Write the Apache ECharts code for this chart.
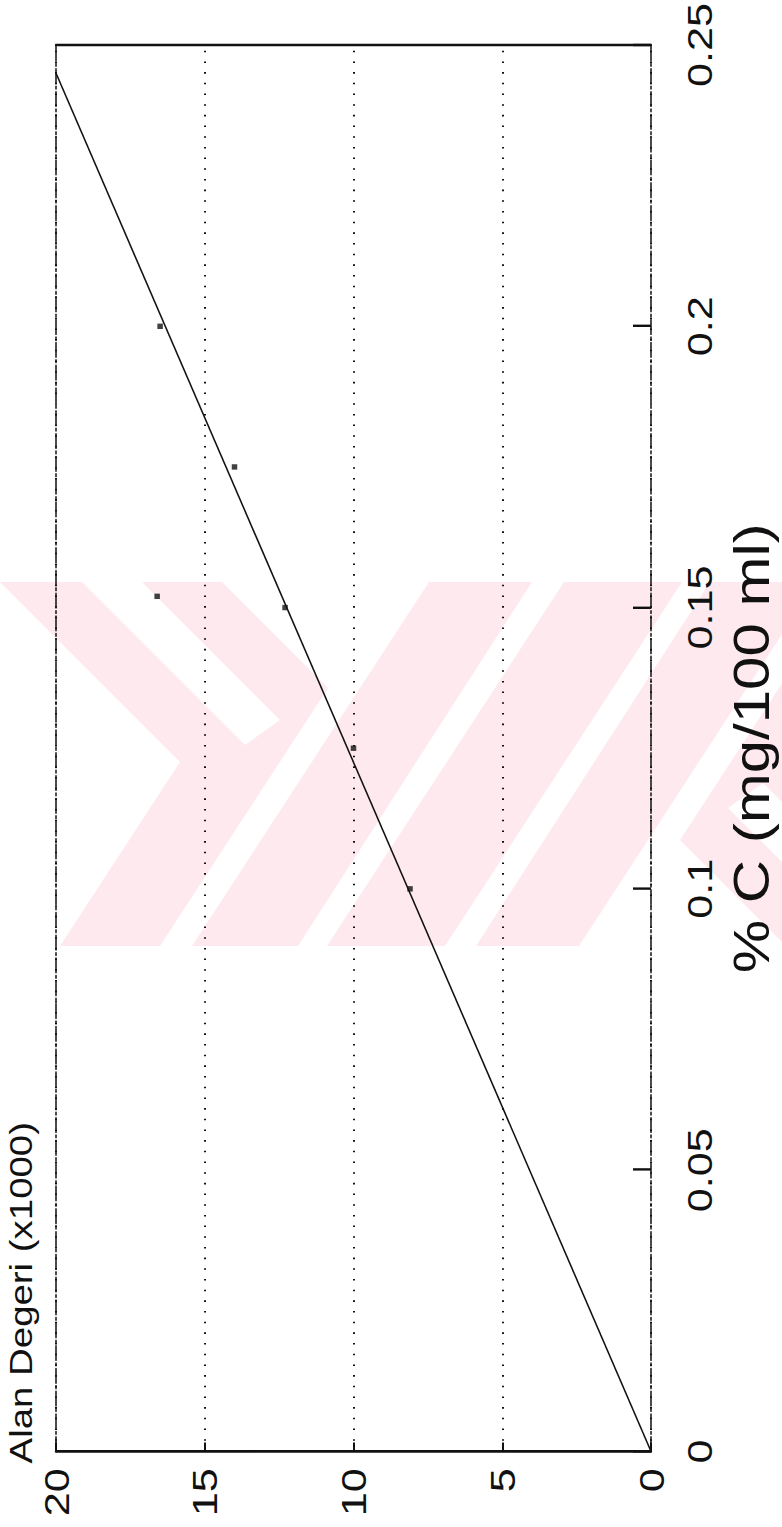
<!DOCTYPE html>
<html>
<head>
<meta charset="utf-8">
<script src="https://cdn.jsdelivr.net/npm/echarts@6/dist/echarts.min.js"></script>
<style>
  html, body { margin: 0; padding: 0; background: #fff; overflow: hidden; }
  #page { position: absolute; left: 0; top: 0; width: 782px; height: 1527px; overflow: hidden; background: #fff; }
  /* The figure is laid out landscape and turned a quarter turn to sit on the portrait page */
  #chart {
    position: absolute; left: 0; top: 0;
    width: 1273px; height: 782px;
    transform-origin: 0 0;
    transform: translate(0, 1527px) rotate(-90deg) scale(1.2, 1);
  }
</style>
</head>
<body>
<div id="page"><div id="chart"></div></div>
<script>
// Calibration measurements: concentration (% C, mg/100 ml) vs. peak area (x1000)
const concentration = [0.1, 0.125, 0.15, 0.152, 0.175, 0.2];
const areaValue     = [8.1, 10.0, 12.3, 16.6, 14.0, 16.5];

// Fitted calibration line end points
const fitX = [0, 0.245];
const fitY = [0, 20];

// Axis tick values
const xTicks = [0, 0.05, 0.1, 0.15, 0.2, 0.25];
const yTicks = [0, 5, 10, 15, 20];

const FONT = '"Liberation Sans", Arial, Helvetica, sans-serif';
const INK = '#111';
const PAGE_H = 1527, SX = 1.2;

// Pale emblem printed behind the figure, given in page coordinates (x right, y down)
const emblemLeft = [[0,582],[82,582],[245,745],[280,720],[142,582],[222,582],[328,688],[160,946],[60,946],[180,762]];
const emblemBandB = [[429,582],[532,582],[298,946],[192,946]];
const emblemBandC = [[564,582],[682,582],[445,946],[327,946]];
const mirror = pts => pts.map(([x, y]) => [1008 - x, 1528 - y]);
const emblemShapes = [emblemLeft, emblemBandB, emblemBandC, mirror(emblemBandB), mirror(emblemLeft)];
const toChart = pts => pts.map(([x, y]) => [(PAGE_H - y) / SX, x]);

const chart = echarts.init(document.getElementById('chart'), null, { renderer: 'svg' });

const dashedFrame = { color: INK, width: 1.5, type: [12, 2.5, 2, 2.5] };
const solidFrame = { color: INK, width: 2.2 };

chart.setOption({
  backgroundColor: '#fff',
  animation: false,
  title: {
    text: 'Alan Degeri (x1000)',
    left: 53, top: 5, padding: 0,
    textStyle: { fontFamily: FONT, fontSize: 32, fontWeight: 'normal', color: INK }
  },
  graphic: emblemShapes.map(pts => ({
    type: 'polygon', silent: true, z: -10,
    shape: { points: toChart(pts) },
    style: { fill: '#fde9ee' }
  })),
  grid: { left: 63, right: 36.3, top: 56, bottom: 131, containLabel: false },
  xAxis: [
    {
      type: 'value', position: 'bottom',
      min: xTicks[0], max: xTicks[xTicks.length - 1], interval: xTicks[1] - xTicks[0],
      name: '% C (mg/100 ml)', nameLocation: 'middle', nameGap: 76,
      nameTextStyle: { fontFamily: FONT, fontSize: 50, color: INK },
      axisLine: { show: true, onZero: false, lineStyle: dashedFrame },
      axisTick: { show: true, inside: true, length: 18, lineStyle: { color: INK, width: 2 } },
      axisLabel: { margin: 30, fontFamily: FONT, fontSize: 36, color: INK },
      splitLine: { show: false }
    },
    {
      type: 'value', position: 'top',
      min: xTicks[0], max: xTicks[xTicks.length - 1], interval: xTicks[1] - xTicks[0],
      axisLine: { show: true, onZero: false, lineStyle: dashedFrame },
      axisTick: { show: false }, axisLabel: { show: false }, splitLine: { show: false }
    }
  ],
  yAxis: [
    {
      type: 'value', position: 'left',
      min: yTicks[0], max: yTicks[yTicks.length - 1], interval: yTicks[1] - yTicks[0],
      axisLine: { show: true, onZero: false, lineStyle: solidFrame },
      axisTick: { show: true, inside: true, length: 7.5, lineStyle: { color: INK, width: 2 } },
      axisLabel: { margin: 14, fontFamily: FONT, fontSize: 36, color: INK },
      splitLine: { show: true, lineStyle: { color: INK, width: 2, type: [1.3, 7.6] } }
    },
    {
      type: 'value', position: 'right',
      min: yTicks[0], max: yTicks[yTicks.length - 1], interval: yTicks[1] - yTicks[0],
      axisLine: { show: true, onZero: false, lineStyle: solidFrame },
      axisTick: { show: false }, axisLabel: { show: false }, splitLine: { show: false }
    }
  ],
  series: [
    {
      type: 'line', name: 'fit',
      data: fitX.map((x, i) => [x, fitY[i]]),
      showSymbol: false, symbol: 'none',
      lineStyle: { color: INK, width: 1.5 },
      z: 3
    },
    {
      type: 'scatter', name: 'measured',
      data: concentration.map((c, i) => [c, areaValue[i]]),
      symbol: 'rect', symbolSize: [4.5, 5.5],
      itemStyle: { color: INK },
      z: 4
    }
  ]
});
</script>
</body>
</html>
